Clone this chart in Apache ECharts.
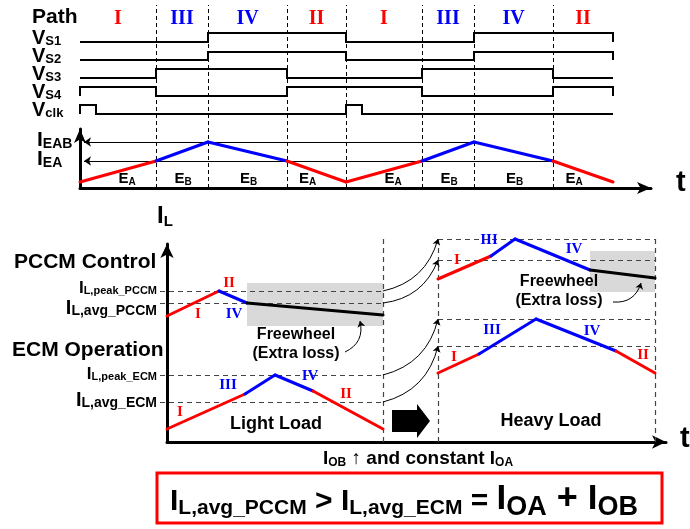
<!DOCTYPE html>
<html>
<head>
<meta charset="utf-8">
<script src="https://cdn.jsdelivr.net/npm/echarts@6/dist/echarts.min.js"></script>
<style>
  html, body { margin: 0; padding: 0; background: #fff; }
  #main { width: 690px; height: 529px; }
</style>
</head>
<body>
<div id="main"></div>
<script>
// ---- top panel: two switching periods ----
const phaseT = [0, 76, 128, 207, 266, 342, 394, 473, 533];
const pathLabels = ['I', 'III', 'IV', 'II', 'I', 'III', 'IV', 'II'];
const energyLabels = ['A', 'B', 'B', 'A', 'A', 'B', 'B', 'A'];
const vs1 = [0, 0, 1, 1, 0, 0, 1, 1];
const vs2 = [0, 0, 1, 1, 0, 0, 1, 1];
const vs3 = [0, 1, 1, 0, 0, 1, 1, 0];
const vs4 = [1, 0, 0, 1, 1, 0, 0, 1];
const clkPulses = [[0, 16], [266, 282]];
const iEdge = [6, 27, 46, 27, 6, 27, 46, 27, 6];
const iEA = 27;
const iEAB = 46;

// ---- bottom panel: inductor current, light load -> heavy load ----
const lightPccmT = [0, 52, 80, 216];
const lightPccmI = [126, 151, 139, 127];
const lightPccmPath = ['I', 'IV', 'FW'];
const lightEcmT = [0, 78, 108, 146, 216];
const lightEcmI = [13, 48, 67, 51, 13];
const lightEcmPath = ['I', 'III', 'IV', 'II'];
const heavyPccmT = [271, 324, 348, 423, 488];
const heavyPccmI = [163, 186, 203, 172, 164];
const heavyPccmPath = ['I', 'III', 'IV', 'FW'];
const heavyEcmT = [271, 312, 369, 449, 488];
const heavyEcmI = [69, 88, 123, 91, 69];
const heavyEcmPath = ['I', 'III', 'IV', 'II'];
// peak PCCM, avg PCCM, peak ECM, avg ECM
const lightLevels = [151, 139, 67, 40];
const heavyLevels = [203, 182, 123, 96];
const lightSpan = [-7, 216];
const heavySpan = [271, 488];
const windowEdges = [216, 271, 488];
const freewheelBoxes = [[80, 116, 216, 159], [423, 150, 488, 191]];

const SANS = 'Liberation Sans';
const SERIF = 'Liberation Serif';
const RED = '#ff0000';
const BLUE = '#0000ff';
const pathColor = p => (p === 'I' || p === 'II') ? RED : (p === 'FW' ? '#000' : BLUE);

// build a step trace for a logic signal
function stepTrace(levels, low, amp) {
  const pts = [[phaseT[0], low]];
  levels.forEach((v, i) => {
    pts.push([phaseT[i], low + amp * v]);
    pts.push([phaseT[i + 1], low + amp * v]);
  });
  pts.push([phaseT[phaseT.length - 1], low]);
  return pts;
}
function clkTrace(low, amp) {
  const pts = [[0, low]];
  clkPulses.forEach(([a, b]) => {
    pts.push([a, low], [a, low + amp], [b, low + amp], [b, low]);
  });
  pts.push([phaseT[phaseT.length - 1], low]);
  return pts;
}
function segments(ts, is, paths) {
  return paths.map((p, i) => ({
    coords: [[ts[i], is[i]], [ts[i + 1], is[i + 1]]],
    lineStyle: { color: pathColor(p) }
  }));
}

const chart = echarts.init(document.getElementById('main'));

const hidden = { show: false };
const arrowAxis = (size) => ({
  show: true, onZero: true,
  symbol: ['none', 'arrow'], symbolSize: size,
  lineStyle: { color: '#000', width: 3 }
});
const bare = { axisTick: hidden, axisLabel: hidden, splitLine: hidden };

const topPeriod = phaseT.slice(1, 8);
const iTopSegs = pathLabels.map((p, i) => ({
  coords: [[phaseT[i], iEdge[i]], [phaseT[i + 1], iEdge[i + 1]]],
  lineStyle: { color: pathColor(p) }
}));

const lvlLines = [];
lightLevels.forEach((v, i) => {
  lvlLines.push({ coords: [[lightSpan[0], v], [lightSpan[1], v]] });
  lvlLines.push({ coords: [[heavySpan[0], heavyLevels[i]], [heavySpan[1], heavyLevels[i]]] });
});

const option = {
  animation: false,
  backgroundColor: '#fff',
  grid: [
    { left: 80, top: 0, width: 571, height: 188, outerBoundsMode: 'none' },
    { left: 80, top: 129, width: 571, height: 59, outerBoundsMode: 'none' },
    { left: 167, top: 0, width: 499, height: 442, outerBoundsMode: 'none' },
    { left: 167, top: 244, width: 499, height: 198, outerBoundsMode: 'none' }
  ],
  xAxis: [
    Object.assign({ gridIndex: 0, type: 'value', min: 0, max: 571, axisLine: arrowAxis([9, 14]) }, bare),
    { gridIndex: 1, type: 'value', min: 0, max: 1, show: false },
    Object.assign({ gridIndex: 2, type: 'value', min: 0, max: 499, axisLine: arrowAxis([10, 14]) }, bare),
    { gridIndex: 3, type: 'value', min: 0, max: 1, show: false }
  ],
  yAxis: [
    { gridIndex: 0, type: 'value', min: 0, max: 188, show: false },
    Object.assign({ gridIndex: 1, type: 'value', min: 0, max: 1, axisLine: arrowAxis([9, 14]) }, bare),
    { gridIndex: 2, type: 'value', min: 0, max: 442, show: false },
    Object.assign({ gridIndex: 3, type: 'value', min: 0, max: 1, axisLine: arrowAxis([10, 14]) }, bare)
  ],
  series: [
    // top: phase boundaries
    {
      type: 'lines', coordinateSystem: 'cartesian2d', xAxisIndex: 0, yAxisIndex: 0, clip: false,
      lineStyle: { color: '#000', width: 1, type: [4, 3], opacity: 1 },
      data: topPeriod.map(t => ({ coords: [[t, 0], [t, 183]] }))
    },
    // top: I_EA / I_EAB reference arrows
    {
      type: 'lines', coordinateSystem: 'cartesian2d', xAxisIndex: 0, yAxisIndex: 0, clip: false,
      symbol: ['none', 'arrow'], symbolSize: 7,
      lineStyle: { color: '#000', width: 1, opacity: 1 },
      data: [
        { coords: [[phaseT[6], iEAB], [4, iEAB]] },
        { coords: [[phaseT[7], iEA], [4, iEA]] }
      ]
    },
    // top: logic signals
    {
      type: 'lines', coordinateSystem: 'cartesian2d', xAxisIndex: 0, yAxisIndex: 0, clip: false,
      polyline: true,
      lineStyle: { color: '#000', width: 2, opacity: 1, join: 'miter' },
      data: [
        { coords: stepTrace(vs1, 146, 9) },
        { coords: stepTrace(vs2, 128, 8) },
        { coords: stepTrace(vs3, 110, 9) },
        { coords: stepTrace(vs4, 92, 9) },
        { coords: clkTrace(74, 9) }
      ]
    },
    // top: error current triangle
    {
      type: 'lines', coordinateSystem: 'cartesian2d', xAxisIndex: 0, yAxisIndex: 0, clip: false,
      lineStyle: { width: 3, opacity: 1, cap: 'round' },
      data: iTopSegs
    },
    // bottom: freewheel regions
    {
      type: 'custom', coordinateSystem: 'cartesian2d', xAxisIndex: 2, yAxisIndex: 2, clip: false,
      encode: { x: [0, 2], y: [1, 3] },
      data: freewheelBoxes,
      renderItem: (params, api) => {
        const a = api.coord([api.value(0), api.value(3)]);
        const b = api.coord([api.value(2), api.value(1)]);
        return { type: 'rect', shape: { x: a[0], y: a[1], width: b[0] - a[0], height: b[1] - a[1] }, style: { fill: '#d9d9d9' } };
      }
    },
    // bottom: level guides
    {
      type: 'lines', coordinateSystem: 'cartesian2d', xAxisIndex: 2, yAxisIndex: 2, clip: false,
      lineStyle: { color: '#444', width: 1.2, type: [5, 4], opacity: 1 },
      data: lvlLines.concat(windowEdges.map(x => ({ coords: [[x, 0], [x, 205]] })))
    },
    // bottom: level carry-over arrows
    {
      type: 'lines', coordinateSystem: 'cartesian2d', xAxisIndex: 2, yAxisIndex: 2, clip: false,
      symbol: ['none', 'arrow'], symbolSize: 6,
      lineStyle: { color: '#000', width: 1, curveness: -0.3, opacity: 1 },
      data: lightLevels.map((v, i) => ({ coords: [[lightSpan[1], v], [heavySpan[0], heavyLevels[i]]] }))
    },
    // bottom: freewheel note arrows
    {
      type: 'lines', coordinateSystem: 'cartesian2d', xAxisIndex: 2, yAxisIndex: 2, clip: false,
      symbol: ['none', 'arrow'], symbolSize: 6,
      lineStyle: { color: '#000', width: 1, curveness: -0.4, opacity: 1 },
      data: [
        { coords: [[178, 90], [193, 121]] },
        { coords: [[446, 140], [474, 159]] }
      ]
    },
    // bottom: inductor current waveforms
    {
      type: 'lines', coordinateSystem: 'cartesian2d', xAxisIndex: 2, yAxisIndex: 2, clip: false,
      lineStyle: { width: 3, opacity: 1, cap: 'round' },
      data: [].concat(
        segments(lightPccmT, lightPccmI, lightPccmPath),
        segments(lightEcmT, lightEcmI, lightEcmPath),
        segments(heavyPccmT, heavyPccmI, heavyPccmPath),
        segments(heavyEcmT, heavyEcmI, heavyEcmPath)
      )
    }
  ]
};
chart.setOption(option);

// rich-text label placed by baseline; parts: [text, size, drop, family, colour]
function label(x, base, parts, align) {
  const mains = parts.filter(p => !p[2]).map(p => p[1]);
  const k = 0.15 * Math.max.apply(null, mains);
  const rich = {};
  let text = '';
  parts.forEach((p, i) => {
    const t = p[0], fs = p[1], drop = p[2] || 0, fam = p[3] || SANS, col = p[4] || '#000';
    const mid = fam === SERIF ? 0.34 : 0.35;
    const h = 2 * (k - drop + mid * fs);
    rich['s' + i] = {
      fontSize: fs, fontFamily: fam, fontWeight: 'bold', fill: col,
      height: h, lineHeight: h, verticalAlign: 'bottom'
    };
    text += '{s' + i + '|' + t + '}';
  });
  return {
    type: 'text', x: x, y: base + k, silent: true, z: 50,
    style: { text: text, rich: rich, align: align || 'left', verticalAlign: 'bottom' }
  };
}

const g = [];
const px = t => chart.convertToPixel({ xAxisIndex: 0 }, t);

// top labels
g.push(label(32, 25, [['Path', 21]]));
pathLabels.forEach((p, i) => {
  const cx = px((phaseT[i] + phaseT[i + 1]) / 2);
  g.push(label(cx, 26, [[p, 20, 0, SERIF, pathColor(p)]], 'center'));
});
[['S1', 45], ['S2', 63], ['S3', 81], ['S4', 99], ['clk', 117]].forEach(([s, b]) => {
  g.push(label(32, b, [['V', 20], [s, 13, 1]]));
});
g.push(label(37, 148, [['I', 21], ['EAB', 14, 1]]));
g.push(label(37, 167, [['I', 21], ['EA', 14, 1]]));
energyLabels.forEach((e, i) => {
  const p = pathLabels[i];
  const shift = p === 'I' ? 9 : (p === 'II' ? -9 : 1);
  const cx = px((phaseT[i] + phaseT[i + 1]) / 2) + shift;
  g.push(label(cx, 184, [['E', 15], [e, 10, 2]], 'center'));
});
g.push(label(676, 193, [['t', 29]]));

// bottom labels
g.push(label(157, 225, [['I', 24], ['L', 15, 2]]));
g.push(label(14, 270, [['PCCM Control', 21]]));
g.push(label(157, 294, [['I', 17], ['L,peak_PCCM', 11, 1]], 'right'));
g.push(label(157, 315, [['I', 20], ['L,avg_PCCM', 14, 1]], 'right'));
g.push(label(12, 358, [['ECM Operation', 21]]));
g.push(label(157, 380, [['I', 17], ['L,peak_ECM', 11, 1]], 'right'));
g.push(label(157, 407, [['I', 20], ['L,avg_ECM', 14, 1]], 'right'));

const bottomTags = [
  ['II', 229, 288], ['I', 198, 319], ['IV', 234, 319],
  ['I', 180, 417], ['III', 228, 390], ['IV', 310, 381], ['II', 346, 399],
  ['III', 489, 245], ['IV', 574, 254], ['I', 457, 265],
  ['I', 454, 362], ['III', 492, 335], ['IV', 592, 336], ['II', 643, 360]
];
bottomTags.forEach(([p, x, b]) => g.push(label(x, b, [[p, 15, 0, SERIF, pathColor(p)]], 'center')));

g.push(label(296, 340, [['Freewheel', 16]], 'center'));
g.push(label(296, 359, [['(Extra loss)', 16]], 'center'));
g.push(label(559, 287, [['Freewheel', 16]], 'center'));
g.push(label(559, 306, [['(Extra loss)', 16]], 'center'));
g.push(label(276, 430, [['Light Load', 18]], 'center'));
g.push(label(551, 427, [['Heavy Load', 18]], 'center'));
g.push(label(680, 449, [['t', 29]]));

// load-step block arrow
g.push({
  type: 'polygon', silent: true,
  shape: { points: [[392, 410], [417, 410], [417, 404], [430, 421], [417, 438], [417, 432], [392, 432]] },
  style: { fill: '#000' }
});

g.push(label(323, 465, [['I', 19], ['OB', 12, 2], [' \u2191 and constant ', 19], ['I', 19], ['OA', 12, 2]]));

// result box
g.push({
  type: 'rect', silent: true, z: 40,
  shape: { x: 157, y: 473, width: 505, height: 50 },
  style: { fill: '#fff', stroke: RED, lineWidth: 3 }
});
g.push(label(170, 512, [
  ['I', 30], ['L,avg_PCCM', 21, 4], [' > ', 30],
  ['I', 30], ['L,avg_ECM', 21, 4], [' = ', 30],
  ['I', 35], ['OA', 27, 5], [' + ', 36],
  ['I', 35], ['OB', 27, 5]
]));

chart.setOption({ graphic: g });
</script>
</body>
</html>
